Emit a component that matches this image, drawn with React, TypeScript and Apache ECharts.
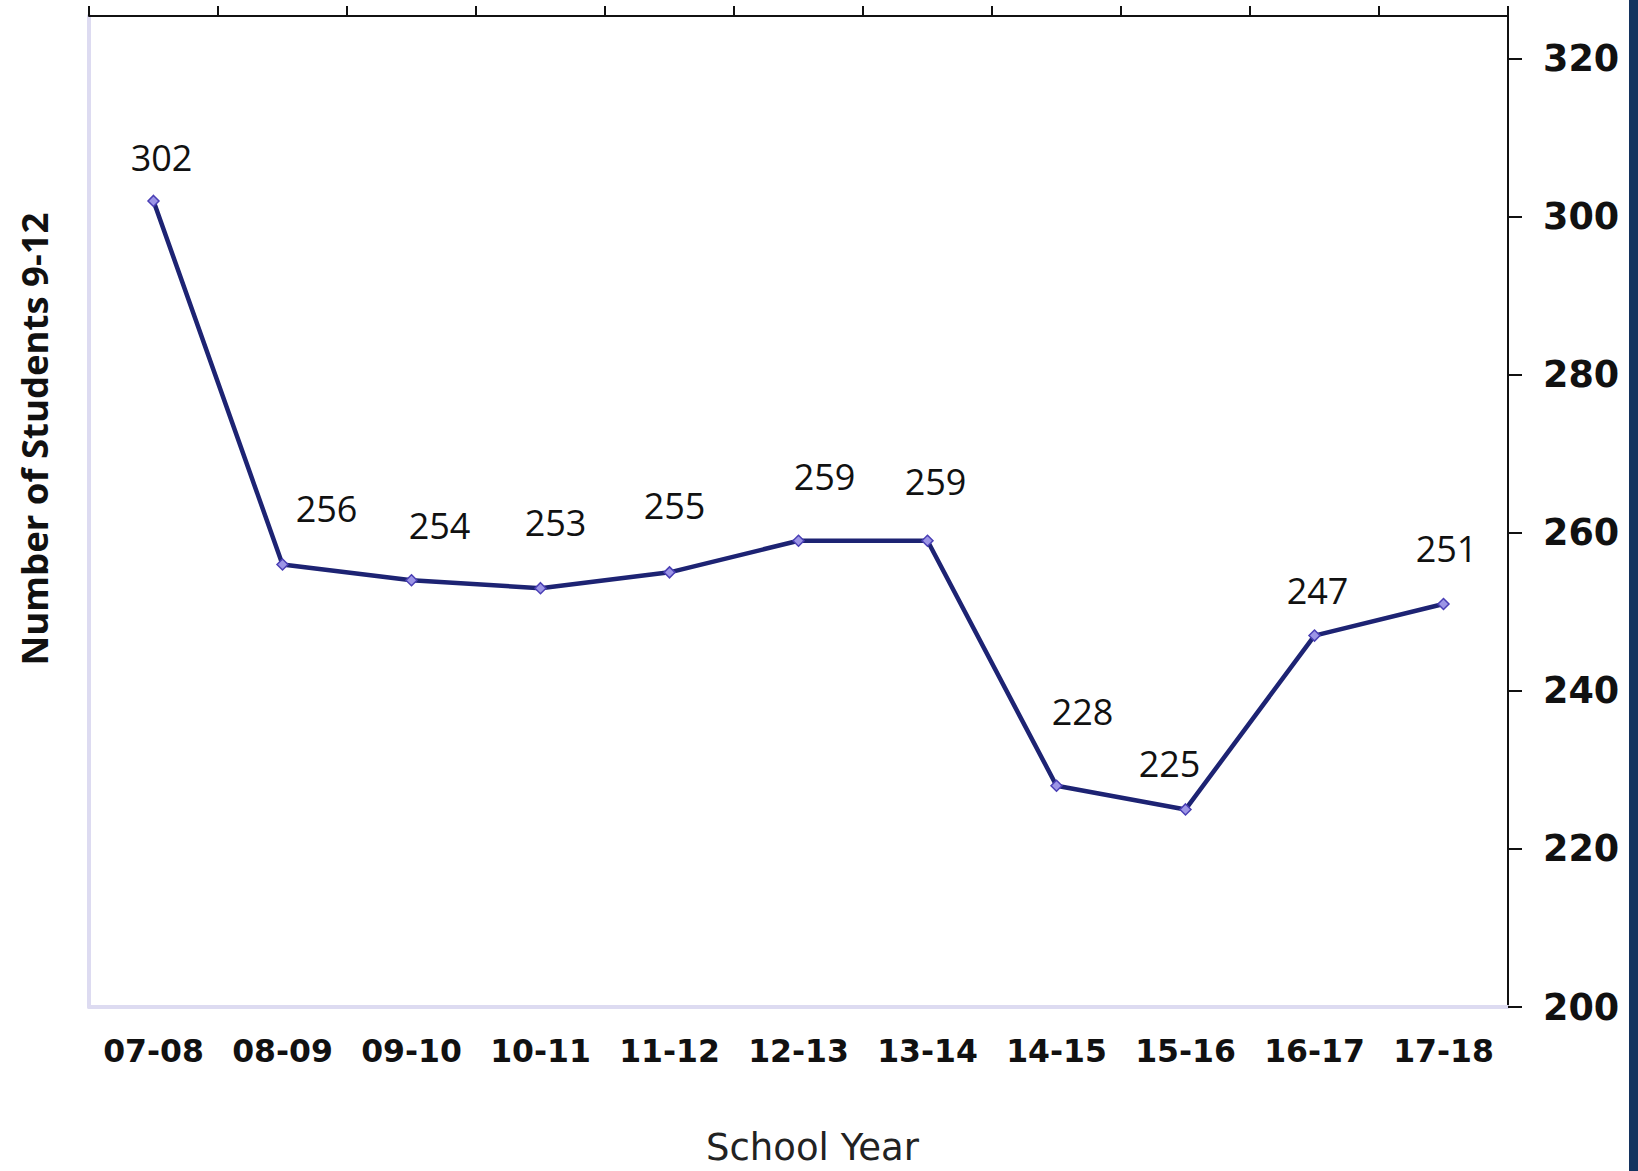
import React, { useEffect, useRef } from "react";
import * as echarts from "echarts";

const schoolYears = ["07-08", "08-09", "09-10", "10-11", "11-12", "12-13", "13-14", "14-15", "15-16", "16-17", "17-18"];
const students = [302, 256, 254, 253, 255, 259, 259, 228, 225, 247, 251];
const yTickValues = [200, 220, 240, 260, 280, 300, 320];
// label placement offsets (px) relative to each point, mimicking the original's label layout
const labelOffsets = [
  [8, -43], [44, -56], [28, -55], [15, -66], [5, -67], [26, -64],
  [8, -59], [26, -74], [-16, -46], [3, -45], [3, -55],
];

const LAVENDER = "#dddbf1";

export default function App() {
  const ref = useRef<HTMLDivElement>(null);
  useEffect(() => {
    if (!ref.current) return;
    const chart = echarts.init(ref.current, null, { renderer: "svg" });
    chart.setOption({
      animation: false,
      backgroundColor: "#ffffff",
      grid: { left: 89, right: 130, top: 16, bottom: 164, containLabel: false },
      xAxis: [
        {
          type: "category",
          data: schoolYears,
          position: "bottom",
          boundaryGap: true,
          axisLine: { show: true, lineStyle: { color: LAVENDER, width: 4 } },
          axisTick: { show: false },
          axisLabel: {
            interval: 0,
            hideOverlap: false,
            margin: 28,
            color: "#111111",
            fontFamily: "DejaVu Sans",
            fontWeight: "bold",
            fontSize: 31.5,
          },
          name: "School Year",
          nameLocation: "middle",
          nameGap: 122,
          nameTextStyle: {
            fontFamily: "DejaVu Sans",
            fontSize: 37,
            color: "#222222",
            padding: [0, 0, 0, 28],
          },
        },
        {
          type: "category",
          data: schoolYears,
          position: "top",
          boundaryGap: true,
          axisLine: { show: true, lineStyle: { color: "#111111", width: 2 } },
          axisTick: { show: true, interval: 0, length: 10, lineStyle: { color: "#111111", width: 2 } },
          axisLabel: { show: false, interval: 0 },
        },
      ],
      yAxis: [
        {
          type: "value",
          position: "right",
          min: 200,
          max: 325.4,
          axisLine: { show: true, lineStyle: { color: "#111111", width: 2 } },
          axisTick: { show: true, length: 14, lineStyle: { color: "#111111", width: 2 }, customValues: yTickValues },
          axisLabel: {
            customValues: yTickValues,
            margin: 35,
            padding: [6, 0, 0, 0],
            color: "#111111",
            fontFamily: "DejaVu Sans",
            fontWeight: "bold",
            fontSize: 36.5,
          },
          splitLine: { show: false },
        },
        {
          type: "value",
          position: "left",
          min: 200,
          max: 325.4,
          axisLine: { show: true, lineStyle: { color: LAVENDER, width: 4 } },
          axisTick: { show: false },
          axisLabel: { show: false },
          splitLine: { show: false },
        },
      ],
      graphic: [
        {
          type: "text",
          x: 34,
          y: 439,
          rotation: Math.PI / 2,
          style: {
            text: "Number of Students 9-12",
            fontFamily: "Open Sans",
            fontWeight: "bold",
            fontSize: 36.5,
            fill: "#111111",
            textAlign: "center",
            textVerticalAlign: "middle",
          },
        },
        {
          type: "rect",
          right: 0,
          top: 0,
          shape: { width: 9, height: 1171 },
          style: { fill: "#14335f" },
        },
      ],
      series: [
        {
          type: "line",
          xAxisIndex: 0,
          yAxisIndex: 0,
          data: students.map((v, i) => ({
            value: v,
            label: { offset: labelOffsets[i] },
          })),
          symbol: "diamond",
          symbolSize: 11,
          showAllSymbol: true,
          lineStyle: { color: "#1d2373", width: 4.5 },
          itemStyle: { color: "#9c95e6", borderColor: "#4a3fb5", borderWidth: 1.5 },
          label: {
            show: true,
            position: "inside",
            fontFamily: "Open Sans",
            fontSize: 36,
            color: "#111111",
          },
        },
      ],
    });
    return () => chart.dispose();
  }, []);
  return (
    <div
      ref={ref}
      style={{ position: "fixed", left: 0, top: 0, width: 1638, height: 1171 }}
    />
  );
}
